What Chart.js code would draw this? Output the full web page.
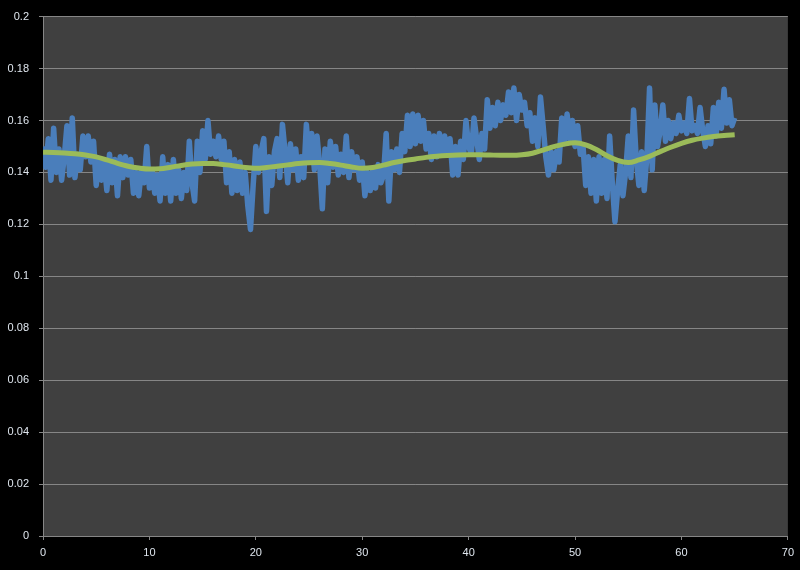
<!DOCTYPE html>
<html>
<head>
    <title>Series with smoothed trend</title>
    <script src="https://cdn.jsdelivr.net/npm/chart.js@4.4.1/dist/chart.umd.min.js"></script>
    <style>
        html, body {
            margin: 0;
            padding: 0;
            background: #000000;
        }
        #chart {
            display: block;
        }
    </style>
</head>
<body>
    <canvas id="chart" width="800" height="570"></canvas>

    <script>
        // raw series, one reading every 0.25 on the x axis, starting at 0
        const blueStep = 0.25;
        const blueValues = [
            0.150, 0.142, 0.153, 0.137,   0.157, 0.140, 0.149, 0.137,
            0.146, 0.158, 0.139, 0.161,   0.138, 0.147, 0.141, 0.154,
            0.146, 0.154, 0.144, 0.152,   0.135, 0.145, 0.137, 0.144,
            0.133, 0.147, 0.136, 0.145,   0.131, 0.146, 0.138, 0.146,
            0.139, 0.145, 0.132, 0.140,   0.131, 0.141, 0.136, 0.150,
            0.134, 0.141, 0.132, 0.139,   0.129, 0.146, 0.132, 0.143,
            0.129, 0.145, 0.132, 0.141,   0.130, 0.140, 0.133, 0.152,
            0.136, 0.129, 0.152, 0.140,   0.156, 0.145, 0.160, 0.147,
            0.152, 0.146, 0.154, 0.145,   0.152, 0.136, 0.148, 0.132,
            0.145, 0.133, 0.144, 0.132,   0.140, 0.127, 0.118, 0.135,
            0.150, 0.140, 0.148, 0.153,   0.125, 0.146, 0.135, 0.148,
            0.153, 0.138, 0.1585, 0.148,  0.136, 0.151, 0.141, 0.149,
            0.137, 0.146, 0.138, 0.1585,  0.145, 0.155, 0.141, 0.154,
            0.143, 0.126, 0.149, 0.136,   0.152, 0.142, 0.150, 0.139,
            0.147, 0.140, 0.154, 0.138,   0.148, 0.141, 0.146, 0.137,
            0.144, 0.131, 0.140, 0.133,   0.141, 0.134, 0.143, 0.136,
            0.139, 0.155, 0.129, 0.148,   0.141, 0.149, 0.140, 0.155,
            0.148, 0.162, 0.150, 0.1625,  0.151, 0.162, 0.152, 0.160,
            0.149, 0.155, 0.145, 0.154,   0.146, 0.155, 0.147, 0.154,
            0.147, 0.153, 0.139, 0.150,   0.139, 0.152, 0.145, 0.160,
            0.150, 0.147, 0.161, 0.153,   0.145, 0.155, 0.149, 0.168,
            0.157, 0.165, 0.158, 0.167,   0.160, 0.166, 0.162, 0.171,
            0.163, 0.1725, 0.160, 0.170,  0.164, 0.167, 0.158, 0.163,
            0.152, 0.161, 0.150, 0.169,   0.158, 0.146, 0.139, 0.148,
            0.141, 0.148, 0.144, 0.161,   0.151, 0.1625, 0.153, 0.160,
            0.150, 0.158, 0.147, 0.150,   0.135, 0.146, 0.132, 0.145,
            0.129, 0.146, 0.132, 0.145,   0.130, 0.154, 0.136, 0.121,
            0.133, 0.143, 0.131, 0.140,   0.154, 0.138, 0.164, 0.145,
            0.135, 0.148, 0.133, 0.146,   0.1725, 0.141, 0.166, 0.150,
            0.156, 0.166, 0.152, 0.160,   0.153, 0.159, 0.155, 0.162,
            0.156, 0.159, 0.155, 0.1685,  0.156, 0.158, 0.155, 0.165,
            0.156, 0.150, 0.158, 0.151,   0.165, 0.154, 0.167, 0.157,
            0.172, 0.159, 0.168, 0.158,   0.161
        ];

        // smoothed trend, one reading per unit from 0 to 65
        const greenValues = [
            0.1478, 0.1477, 0.1475, 0.1472, 0.1467, 0.1460, 0.1448, 0.1435, 0.1424, 0.1417,
            0.1413, 0.1414, 0.1420, 0.1427, 0.1432, 0.1434, 0.1434, 0.1430, 0.1425, 0.1419,
            0.1416, 0.1419, 0.1424, 0.1429, 0.1434, 0.1437, 0.1438, 0.1434, 0.1428, 0.1421,
            0.1416, 0.1419, 0.1428, 0.1438, 0.1446, 0.1452, 0.1458, 0.1462, 0.1465, 0.1467,
            0.1468, 0.1468, 0.1467, 0.1466, 0.1466, 0.1468, 0.1474, 0.1486, 0.1499, 0.1509,
            0.1514, 0.1506, 0.1488, 0.1464, 0.1446, 0.1438, 0.1448, 0.1462, 0.1480, 0.1497,
            0.1512, 0.1524, 0.1532, 0.1538, 0.1542, 0.1545
        ];

        const xTicks = [0, 10, 20, 30, 40, 50, 60, 70];
        const yTicks = [0, 0.02, 0.04, 0.06, 0.08, 0.1, 0.12, 0.14, 0.16, 0.18, 0.2];
        const yTickLabels = ['0', '0.02', '0.04', '0.06', '0.08', '0.1', '0.12', '0.14', '0.16', '0.18', '0.2'];

        const bluePoints = blueValues.map((v, i) => ({ x: i * blueStep, y: v }));
        const greenPoints = greenValues.map((v, i) => ({ x: i, y: v }));

        // grey plot area behind the lines
        const plotBackground = {
            id: 'plotBackground',
            beforeDraw(chart) {
                const { ctx, chartArea } = chart;
                ctx.save();
                ctx.fillStyle = '#404040';
                ctx.fillRect(chartArea.left, chartArea.top, chartArea.right - chartArea.left, chartArea.bottom - chartArea.top);
                ctx.restore();
            }
        };

        const tickFont = { family: 'Liberation Sans, Arial, sans-serif', size: 11 };

        new Chart(document.getElementById('chart'), {
            type: 'scatter',
            data: {
                datasets: [
                    {
                        label: 'trend',
                        data: greenPoints,
                        showLine: true,
                        borderColor: '#9bbb59',
                        borderWidth: 5,
                        pointRadius: 0,
                        cubicInterpolationMode: 'monotone',
                        order: 0
                    },
                    {
                        label: 'series',
                        data: bluePoints,
                        showLine: true,
                        borderColor: '#4a7ebb',
                        borderWidth: 5.5,
                        borderJoinStyle: 'round',
                        pointRadius: 0,
                        tension: 0,
                        order: 1
                    }
                ]
            },
            options: {
                responsive: false,
                animation: false,
                layout: { padding: { top: 9, right: 12, left: 0, bottom: 0 } },
                plugins: {
                    legend: { display: false },
                    tooltip: { enabled: false }
                },
                scales: {
                    x: {
                        type: 'linear',
                        min: 0,
                        max: 70,
                        afterBuildTicks: scale => { scale.ticks = xTicks.map(v => ({ value: v })); },
                        afterFit: scale => { scale.height = 34; },
                        grid: {
                            drawOnChartArea: false,
                            drawTicks: true,
                            tickLength: 4,
                            color: '#868686'
                        },
                        border: { color: '#868686', width: 1 },
                        ticks: {
                            color: '#dfe6ee',
                            font: tickFont,
                            padding: 6,
                            maxRotation: 0
                        }
                    },
                    y: {
                        min: 0,
                        max: 0.2,
                        afterBuildTicks: scale => { scale.ticks = yTicks.map(v => ({ value: v })); },
                        afterFit: scale => { scale.width = 43; },
                        grid: {
                            color: '#868686',
                            drawTicks: true,
                            tickLength: 4
                        },
                        border: { color: '#868686', width: 1 },
                        ticks: {
                            color: '#dfe6ee',
                            font: tickFont,
                            padding: 10,
                            callback: (value, index) => yTickLabels[index]
                        }
                    }
                }
            },
            plugins: [plotBackground]
        });
    </script>
</body>
</html>
